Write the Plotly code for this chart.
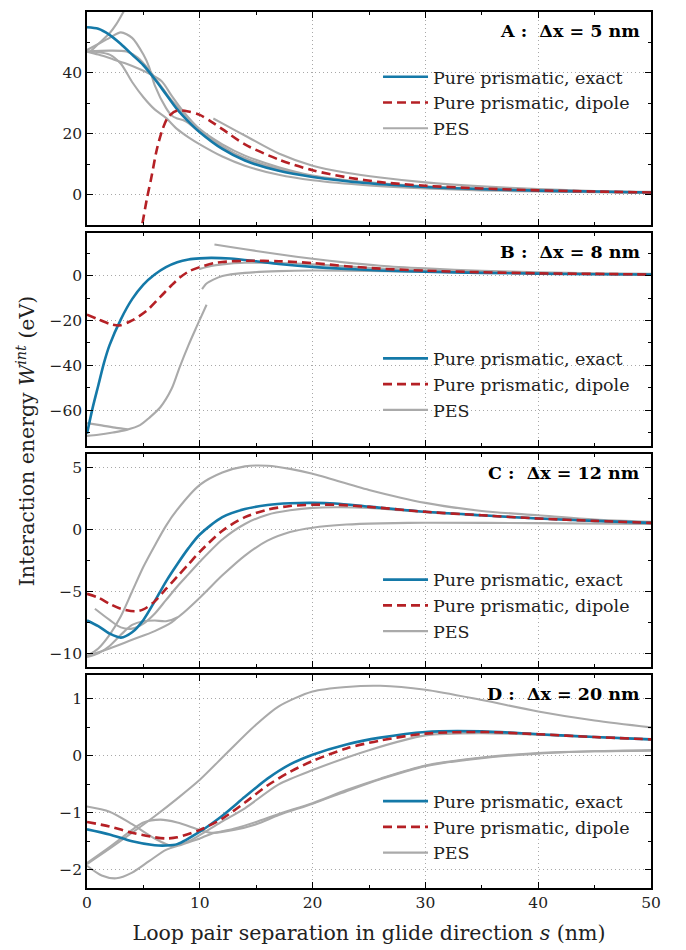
import plotly.graph_objects as go
from plotly.subplots import make_subplots

# ---- panel A : dx = 5 nm ----
A_EXACT_S = [0, 1, 2, 3, 4, 5, 6, 7, 8, 9, 10, 12, 14, 17, 20, 25, 30, 35, 40, 45, 50]
A_EXACT_W = [55, 54.5, 52.5, 49.5, 46, 42.5, 38, 33, 28, 24, 20.5, 15, 11.2, 7.8, 5.8, 3.7, 2.5, 1.8, 1.3, 1.0, 0.7]
A_DIPOLE_S = [4.7, 5.3, 5.7, 6.2, 6.7, 7.2, 8, 9, 10, 11, 12, 14, 17, 20, 23, 26, 30, 35, 40, 45, 50]
A_DIPOLE_W = [-14, -1.6, 5.5, 15, 21.5, 25.5, 27.6, 27.3, 26.2, 24, 21.5, 16.5, 11.5, 8, 5.7, 4.1, 2.9, 2.0, 1.4, 1.0, 0.7]
A_PES = [
    ([0.3, 1, 2, 2.6, 3.3], [47, 49.5, 53, 56, 60.5]),
    ([0, 1, 2, 3, 4, 5, 5.5, 6, 7, 7.5, 8, 8.5, 9, 10, 11, 12, 14, 17, 20, 25, 30, 40, 50],
     [47.5, 49.5, 51.5, 53.3, 51.5, 46, 42, 36, 28.5, 26, 25, 24.5, 23.5, 20.5, 18, 15.5, 12, 8.5, 6, 3.8, 2.5, 1.2, 0.6]),
    ([0, 2, 3.5, 4.5, 5.5, 6.5, 7.5, 8.5, 10, 12, 14, 17, 20, 25, 30, 40, 50],
     [47, 47.3, 47, 45, 41, 36, 31, 27, 21.5, 16.5, 12.8, 9, 6.3, 4, 2.7, 1.3, 0.7]),
    ([0, 1, 2, 3, 4, 5, 6, 7, 8, 9, 10, 12, 14, 17, 20, 25, 30, 35, 40, 50],
     [47, 46.8, 46, 43, 37, 32, 28, 25.2, 21.5, 18.8, 16.5, 12.5, 9.5, 6.5, 4.7, 3.0, 2.0, 1.4, 1.0, 0.5]),
    ([0, 1, 2.2, 3.5, 4.7, 5.5, 6.6, 7.5, 8.5, 10, 12, 14, 17, 20],
     [47, 46, 44.6, 43, 41.2, 39.8, 37.3, 32.5, 27.5, 21.3, 15.8, 11.8, 8.2, 6.0]),
    ([11.2, 12, 14.2, 17, 20, 23, 26, 30, 35, 40, 45, 50],
     [25, 23.4, 19, 13.5, 9.5, 7.2, 5.6, 4.0, 2.7, 1.8, 1.2, 0.9]),
]

# ---- panel B : dx = 8 nm ----
B_EXACT_S = [0, 0.5, 1, 1.5, 2, 3, 4, 5, 6, 7, 8, 9, 10, 11, 12.7, 15, 17, 20, 23, 26, 30, 35, 40, 45, 50]
B_EXACT_W = [-70.5, -59, -49, -39, -31, -19.5, -10.5, -4, 0.5, 3.8, 6, 7.2, 7.7, 7.9, 7.6, 6.4, 5.2, 3.9, 3.0, 2.3, 1.7, 1.2, 0.9, 0.6, 0.5]
B_DIPOLE_S = [0, 1, 2, 2.9, 4, 5.3, 6.5, 7.5, 8.2, 9, 10, 11.2, 12, 14.2, 17, 20, 23, 26, 30, 35, 40, 45, 50]
B_DIPOLE_W = [-17.4, -19.5, -21.5, -22.2, -20, -15.6, -9.5, -4.3, -1, 1.8, 3.8, 5.5, 6.1, 6.6, 6.4, 5.6, 4.2, 3.1, 2.2, 1.5, 1.0, 0.75, 0.5]
B_PES = [
    ([11.3, 13, 15, 17, 20, 23, 26, 30, 35, 40, 45, 50],
     [13.9, 12.5, 11, 9.5, 7.5, 5.8, 4.4, 3.2, 2.1, 1.5, 1.0, 0.8]),
    ([10, 11, 12, 14, 17, 20, 25, 30, 40, 50],
     [3.0, 4.3, 5.0, 5.7, 5.6, 5.0, 3.5, 2.3, 1.1, 0.5]),
    ([10.2, 10.6, 11.2, 12, 14, 17, 20, 25, 30, 40, 50],
     [-6, -3.5, -1.8, -0.2, 1.2, 2.0, 2.3, 2.1, 1.7, 1.0, 0.4]),
    ([0, 1, 2.3, 3.5, 4.7, 5.5, 6.5, 7.5, 8.2, 9, 9.7, 10.6],
     [-71.5, -71, -70, -68.8, -66.7, -63.5, -58.7, -50.5, -41, -31, -23, -13]),
    ([0, 1.3, 2.6, 3.6], [-65.8, -66.8, -67.9, -68.5]),
]

# ---- panel C : dx = 12 nm ----
C_EXACT_S = [0, 1, 2, 3, 4, 5, 6, 7, 8, 9, 10, 12, 14, 16, 18, 20, 22, 25, 30, 35, 40, 45, 50]
C_EXACT_W = [-7.34, -7.8, -8.4, -8.73, -8.3, -7.3, -5.8, -4.2, -2.8, -1.5, -0.4, 1.0, 1.65, 1.98, 2.12, 2.15, 2.1, 1.85, 1.43, 1.15, 0.89, 0.7, 0.54]
C_DIPOLE_S = [0, 1, 2, 3, 4.25, 5, 6, 7, 8, 9, 10, 12, 14, 16, 18, 20, 22, 25, 30, 35, 40, 45, 50]
C_DIPOLE_W = [-5.19, -5.5, -6.0, -6.4, -6.6, -6.45, -5.8, -4.8, -3.8, -2.8, -1.8, -0.1, 1.0, 1.6, 1.9, 2.0, 2.0, 1.83, 1.43, 1.15, 0.89, 0.7, 0.54]
C_PES = [
    ([0, 1, 2, 3, 4, 5, 6, 7, 8, 10, 12, 14, 16, 18, 20, 25, 30, 35, 40, 45, 50],
     [-10.2, -9.6, -8.5, -7.0, -5.0, -3.0, -1.3, 0.3, 1.6, 3.6, 4.6, 5.1, 5.15, 4.9, 4.5, 3.2, 2.15, 1.5, 1.15, 0.8, 0.62]),
    ([0.7, 2, 3, 4, 5, 6, 7, 8, 9, 10, 12, 14, 16, 18, 20, 22, 25, 30, 35, 40, 50],
     [-6.4, -7.3, -7.9, -8.0, -7.6, -6.8, -5.7, -4.6, -3.6, -2.6, -0.8, 0.45, 1.2, 1.55, 1.75, 1.8, 1.75, 1.4, 1.15, 0.9, 0.54]),
    ([0, 1, 2, 3, 4, 5, 6, 7, 8, 10, 12, 14, 16, 18, 20, 23, 26, 30, 40, 50],
     [-10.3, -10.0, -9.4, -8.5, -7.7, -7.4, -7.35, -7.4, -7.1, -5.5, -3.7, -2.1, -0.9, -0.2, 0.15, 0.4, 0.5, 0.55, 0.52, 0.45]),
    ([0, 2, 4, 6, 7.5, 8], [-10.2, -9.6, -8.9, -8.2, -7.5, -7.1]),
]

# ---- panel D : dx = 20 nm ----
D_EXACT_S = [0, 2, 4, 6, 7, 8, 10, 12, 14, 16, 18, 20, 23, 26, 30, 35, 40, 45, 50]
D_EXACT_W = [-1.29, -1.38, -1.5, -1.57, -1.575, -1.55, -1.33, -1.05, -0.72, -0.4, -0.15, 0.02, 0.2, 0.32, 0.42, 0.43, 0.38, 0.33, 0.29]
D_DIPOLE_S = [0, 2, 4, 6, 7, 8, 10, 12, 14, 16, 18, 20, 23, 26, 30, 35, 40, 45, 50]
D_DIPOLE_W = [-1.16, -1.24, -1.35, -1.43, -1.45, -1.43, -1.3, -1.1, -0.82, -0.52, -0.28, -0.09, 0.13, 0.27, 0.39, 0.42, 0.38, 0.33, 0.29]
D_PES = [
    ([0, 2, 4, 6, 8, 10, 12.4, 15, 17, 20, 23, 26, 30, 35, 40, 45, 50],
     [-1.9, -1.63, -1.35, -1.06, -0.75, -0.42, 0.05, 0.55, 0.87, 1.13, 1.21, 1.23, 1.16, 0.98, 0.78, 0.62, 0.5]),
    ([0, 2, 4, 6, 7.5, 9, 10.5, 12, 14, 17, 20, 25, 30, 35, 40, 45, 50],
     [-0.89, -0.98, -1.2, -1.45, -1.58, -1.5, -1.33, -1.15, -0.92, -0.5, -0.25, 0.1, 0.36, 0.4, 0.37, 0.33, 0.29]),
    ([0, 1.3, 2.6, 4, 5.5, 7, 8.5, 10, 11, 13, 15, 17, 20, 23, 26, 30, 35, 40, 45, 50],
     [-1.93, -2.1, -2.15, -2.05, -1.85, -1.65, -1.55, -1.45, -1.37, -1.28, -1.16, -1.02, -0.83, -0.6, -0.4, -0.17, -0.03, 0.05, 0.08, 0.09]),
    ([0, 2, 4, 5, 6.5, 8, 10, 11, 13, 15, 17, 20, 23, 26, 30, 35, 40, 45, 50],
     [-1.88, -1.6, -1.3, -1.17, -1.12, -1.17, -1.3, -1.35, -1.3, -1.2, -1.04, -0.84, -0.62, -0.41, -0.18, -0.04, 0.04, 0.08, 0.1]),
]

PANEL_LABELS = ["A :  Δx = 5 nm", "B :  Δx = 8 nm", "C :  Δx = 12 nm", "D :  Δx = 20 nm"]
Y_RANGES = [[-10, 60], [-76, 19], [-11.1, 6.1], [-2.32, 1.42]]
Y_DTICK = [20, 20, 5, 1]
LEGEND_Y = [0.9465, 0.625, 0.3724, 0.1196]

BLUE = "#1479a8"
RED = "#b52025"
GREY = "#aaaaaa"
FONT = "DejaVu Serif"

panels = [
    (A_EXACT_S, A_EXACT_W, A_DIPOLE_S, A_DIPOLE_W, A_PES),
    (B_EXACT_S, B_EXACT_W, B_DIPOLE_S, B_DIPOLE_W, B_PES),
    (C_EXACT_S, C_EXACT_W, C_DIPOLE_S, C_DIPOLE_W, C_PES),
    (D_EXACT_S, D_EXACT_W, D_DIPOLE_S, D_DIPOLE_W, D_PES),
]

fig = make_subplots(rows=4, cols=1, shared_xaxes=True, vertical_spacing=0.0091)

for i, (es, ew, ds, dw, pes) in enumerate(panels):
    row = i + 1
    leg = "legend" if i == 0 else f"legend{i + 1}"
    for k, (ps, pw) in enumerate(pes):
        fig.add_trace(go.Scatter(x=ps, y=pw, mode="lines", name="PES",
                                 line=dict(color=GREY, width=2.1, shape="spline", smoothing=0.8),
                                 showlegend=(k == 0), legend=leg, legendrank=3),
                      row=row, col=1)
    fig.add_trace(go.Scatter(x=es, y=ew, mode="lines", name="Pure prismatic, exact",
                             line=dict(color=BLUE, width=2.6, shape="spline", smoothing=0.8),
                             legend=leg, legendrank=1), row=row, col=1)
    fig.add_trace(go.Scatter(x=ds, y=dw, mode="lines", name="Pure prismatic, dipole",
                             line=dict(color=RED, width=2.6, dash="9px,5px", shape="spline", smoothing=0.8),
                             legend=leg, legendrank=2), row=row, col=1)

    ax_common = dict(showline=True, linecolor="black", linewidth=1.5, mirror="allticks",
                     ticks="inside", ticklen=6, tickwidth=1.2, tickcolor="black",
                     showgrid=True, gridcolor="#a8a8a8", griddash="1px,3px", gridwidth=1,
                     zeroline=False, tickfont=dict(size=15.5, family=FONT, color="#222"))
    fig.update_xaxes(range=[0, 50], dtick=10, tick0=0,
                     minor=dict(dtick=5, ticks="inside", ticklen=3, tickcolor="black", showgrid=False),
                     showticklabels=(row == 4), **ax_common, row=row, col=1)
    fig.update_yaxes(range=Y_RANGES[i], dtick=Y_DTICK[i], tick0=0,
                     minor=dict(dtick=Y_DTICK[i] / 2, ticks="inside", ticklen=3, tickcolor="black", showgrid=False),
                     **ax_common, row=row, col=1)

    yref = "y domain" if i == 0 else f"y{i + 1} domain"
    xref = "x domain" if i == 0 else f"x{i + 1} domain"
    fig.add_annotation(text=f"<b>{PANEL_LABELS[i]}</b>", xref=xref, yref=yref,
                       x=0.984, y=0.912, xanchor="right", yanchor="middle",
                       showarrow=False, font=dict(size=17.5, family=FONT, color="black"))

    fig.update_layout({leg: dict(x=0.516, y=LEGEND_Y[i], xanchor="left", yanchor="top",
                                 bgcolor="rgba(0,0,0,0)", borderwidth=0, itemwidth=45,
                                 font=dict(size=17.5, family=FONT, color="#222"),
                                 tracegroupgap=0)})

fig.update_xaxes(title=dict(text="Loop pair separation in glide direction <i>s</i> (nm)",
                            font=dict(size=20.5, family=FONT, color="#222"), standoff=14), row=4, col=1)

fig.add_annotation(text="Interaction energy <i>W</i><sup><i>int</i></sup> (eV)",
                   xref="paper", yref="paper", x=-0.108, y=0.51, textangle=-90,
                   xanchor="center", yanchor="middle", showarrow=False,
                   font=dict(size=20.5, family=FONT, color="#222"))

# the page body adds an 8px offset, so the figure is sized to sit in the 686x950 window
fig.update_layout(width=678, height=942, margin=dict(l=79, r=35, t=2, b=62),
                  plot_bgcolor="white", paper_bgcolor="white",
                  font=dict(family=FONT, size=16, color="#222"))

fig.write_html("out.html")
